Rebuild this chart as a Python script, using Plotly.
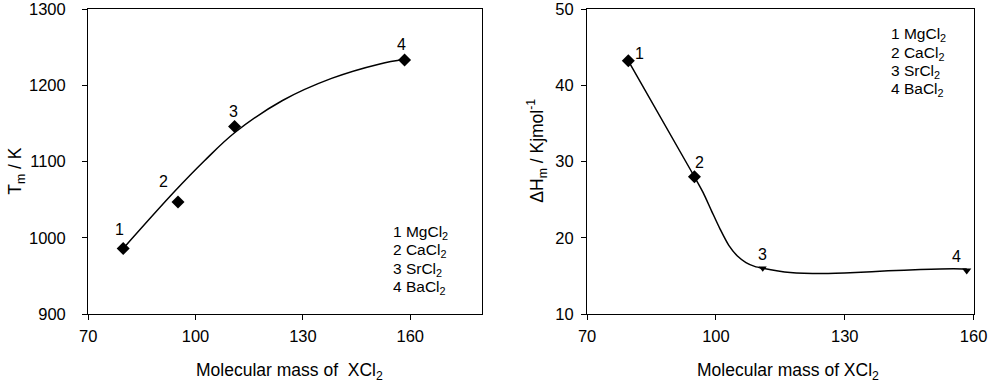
import plotly.graph_objects as go

# ---- data ----
labels = ["1", "2", "3", "4"]
legend_lines = ["1 MgCl<sub>2</sub>", "2 CaCl<sub>2</sub>", "3 SrCl<sub>2</sub>", "4 BaCl<sub>2</sub>"]

mass_left = [79.8, 95.1, 110.9, 158.4]
tm_values = [986, 1047, 1146, 1233]

mass_right = [79.6, 95.0, 110.9, 158.4]
dh_values = [43.2, 28.0, 16.0, 15.7]

# fitted trend curve (left)
trend_left_x = [79.8, 94.0, 102.5, 111.0, 124.3, 138.0, 151.5, 158.4]
trend_left_y = [986, 1060, 1101, 1138, 1180, 1209, 1228, 1234]

# smooth curve (right)
trend_right_x = [79.6, 95.0, 97.0, 99.0, 101.0, 103.0, 105.0, 107.0, 109.0, 110.9, 117.3, 124.9, 132.5, 140.1, 147.6, 155.3, 158.4]
trend_right_y = [43.2, 28.0, 25.95, 23.5, 21.1, 19.0, 17.6, 16.75, 16.25, 16.0, 15.44, 15.31, 15.44, 15.66, 15.83, 15.93, 15.9]

x_ticks_left = [70, 100, 130, 160]
y_ticks_left = [900, 1000, 1100, 1200, 1300]
x_ticks_right = [70, 100, 130, 160]
y_ticks_right = [10, 20, 30, 40, 50]

FONT = "Liberation Sans, Arial, sans-serif"

fig = go.Figure()

fig.add_trace(go.Scatter(x=trend_left_x, y=trend_left_y, mode="lines",
                         line=dict(color="black", width=1.5, shape="spline", smoothing=1.0),
                         xaxis="x", yaxis="y", hoverinfo="skip"))
fig.add_trace(go.Scatter(x=mass_left, y=tm_values, mode="markers",
                         marker=dict(symbol="diamond", size=10, color="black", opacity=1,
                                     line=dict(width=0)),
                         xaxis="x", yaxis="y"))

fig.add_trace(go.Scatter(x=trend_right_x, y=trend_right_y, mode="lines",
                         line=dict(color="black", width=1.5, shape="spline", smoothing=0.8),
                         xaxis="x2", yaxis="y2", hoverinfo="skip"))
fig.add_trace(go.Scatter(x=mass_right, y=dh_values, mode="markers",
                         marker=dict(symbol=["diamond", "diamond", "triangle-down", "triangle-down"],
                                     size=[10, 10, 7, 8], color="black", opacity=1,
                                     line=dict(width=0)),
                         xaxis="x2", yaxis="y2"))

axis_common = dict(showline=True, linecolor="black", linewidth=1.2, mirror=True,
                   ticks="outside", ticklen=5, tickwidth=1.2, tickcolor="black",
                   showgrid=False, zeroline=False, ticklabeloverflow="allow",
                   tickfont=dict(family=FONT, size=16.5, color="black"))

annotations = []
# point labels (pixel offsets from each point)
left_offsets = [(-4, -19), (-14, -20), (-1, -15), (-3, -16)]
for lab, xv, yv, (dx, dy) in zip(labels, mass_left, tm_values, left_offsets):
    annotations.append(dict(x=xv, y=yv, xref="x", yref="y", text=lab, showarrow=False,
                            xshift=dx, yshift=-dy, font=dict(family=FONT, size=16, color="black")))
right_offsets = [(11, -7), (5, -14), (0, -14), (-10, -14)]
for lab, xv, yv, (dx, dy) in zip(labels, mass_right, dh_values, right_offsets):
    annotations.append(dict(x=xv, y=yv, xref="x2", yref="y2", text=lab, showarrow=False,
                            xshift=dx, yshift=-dy, font=dict(family=FONT, size=16, color="black")))

W, H = 1000, 382
MT, MB = 7, 68
ph = H - MT - MB

def px(xp, yp):
    return xp / W, 1 - (yp - MT) / ph

# legend text blocks
for i, t in enumerate(legend_lines):
    for (lx, ly) in [(391, 232), (901, 33)]:
        xx, yy = px(lx, ly + 18.5 * i)
        annotations.append(dict(x=xx, y=yy, xref="paper", yref="paper", text=t,
                                showarrow=False, xanchor="left", yanchor="middle",
                                font=dict(family=FONT, size=15.5, color="black")))

# axis titles
titles = [
    (287, 372, "Molecular mass of  XCl<sub>2</sub>", 0),
    (797, 372, "Molecular mass of XCl<sub>2</sub>", 0),
    (8, 170, "T<sub>m</sub> / K", -90),
    (540, 150, "ΔH<sub>m</sub> / Kjmol<sup>-1</sup>", -90),
]
for tx, ty, text, ang in titles:
    xx, yy = px(tx, ty)
    annotations.append(dict(x=xx, y=yy, xref="paper", yref="paper", text=text, showarrow=False,
                            textangle=ang, xanchor="center", yanchor="middle",
                            font=dict(family=FONT, size=17.5, color="black")))

fig.update_layout(
    width=W, height=H,
    margin=dict(l=0, r=0, t=MT, b=MB),
    paper_bgcolor="white", plot_bgcolor="white",
    showlegend=False,
    font=dict(family=FONT, color="black"),
    xaxis=dict(domain=[0.081, 0.484], range=[70, 180], tickvals=x_ticks_left,
               anchor="y", ticklabelstandoff=2, **axis_common),
    yaxis=dict(domain=[0, 1], range=[900, 1300], tickvals=y_ticks_left,
               anchor="x", ticklabelstandoff=13, **axis_common),
    xaxis2=dict(domain=[0.5917, 0.9873], range=[70, 160], tickvals=x_ticks_right,
                anchor="y2", ticklabelstandoff=2, **axis_common),
    yaxis2=dict(domain=[0, 1], range=[10, 50], tickvals=y_ticks_right,
                anchor="x2", ticklabelstandoff=4, **axis_common),
    annotations=annotations,
)

fig.write_html("out.html", config={"displayModeBar": False},
               post_script="document.body.style.margin='0';")
